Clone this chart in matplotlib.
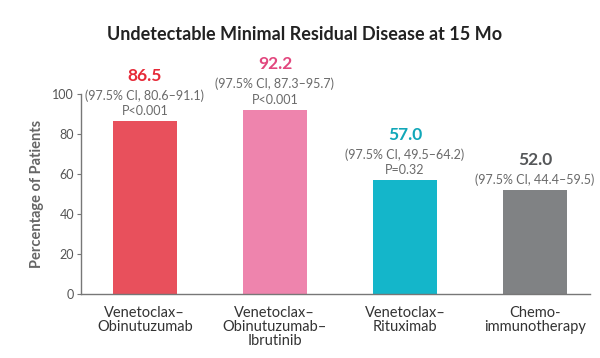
import matplotlib.pyplot as plt

plt.rcParams['font.family'] = ['Lato', 'DejaVu Sans']

groups = ['Venetoclax–\nObinutuzumab', 'Venetoclax–\nObinutuzumab–\nIbrutinib',
          'Venetoclax–\nRituximab', 'Chemo-\nimmunotherapy']
values = [86.5, 92.2, 57.0, 52.0]
ci_labels = ['(97.5% CI, 80.6–91.1)', '(97.5% CI, 87.3–95.7)',
             '(97.5% CI, 49.5–64.2)', '(97.5% CI, 44.4–59.5)']
p_labels = ['P<0.001', 'P<0.001', 'P=0.32', '']

bar_colors = ['#E8505C', '#EE84AD', '#14B6CA', '#808284']
num_colors = ['#E62A38', '#E2477E', '#11A7B8', '#555759']

fig = plt.figure(figsize=(6, 3.58), dpi=100)
ax = fig.add_axes([0.135, 0.179, 0.848, 0.558])

x = list(range(len(values)))
ax.bar(x, values, width=0.49, color=bar_colors)

for i, v in enumerate(values):
    if p_labels[i]:
        ax.annotate(p_labels[i], (i, v), xytext=(0, 3), textcoords='offset points',
                    ha='center', va='bottom', fontsize=9, color='#6a6a6a')
        ci_off, num_off = 14, 27
    else:
        ci_off, num_off = 3, 16
    ax.annotate(ci_labels[i], (i, v), xytext=(0, ci_off), textcoords='offset points',
                ha='center', va='bottom', fontsize=9, color='#6a6a6a')
    ax.annotate(f'{v:.1f}', (i, v), xytext=(0, num_off), textcoords='offset points',
                ha='center', va='bottom', fontsize=12.5, fontweight='bold', color=num_colors[i])

ax.set_xlim(-0.49, 3.42)
ax.set_ylim(0, 100)
ax.set_yticks([0, 20, 40, 60, 80, 100])
ax.set_xticks(x)
ax.set_xticklabels(groups, fontsize=10.5, color='#333333', linespacing=1.0)
ax.tick_params(axis='x', length=0, pad=9)
ax.tick_params(axis='y', length=3, color='#777777', labelsize=9, labelcolor='#555555', pad=2)
ax.set_ylabel('Percentage of Patients', fontsize=10.5, color='#666666',
              fontweight='bold', labelpad=6)

for s in ['top', 'right']:
    ax.spines[s].set_visible(False)
for s in ['left', 'bottom']:
    ax.spines[s].set_color('#777777')
    ax.spines[s].set_linewidth(1)

fig.text(0.507, 0.905, 'Undetectable Minimal Residual Disease at 15 Mo',
         ha='center', va='center', fontsize=13, fontweight='bold', color='#222222')

fig.savefig('out.png', dpi=100)
